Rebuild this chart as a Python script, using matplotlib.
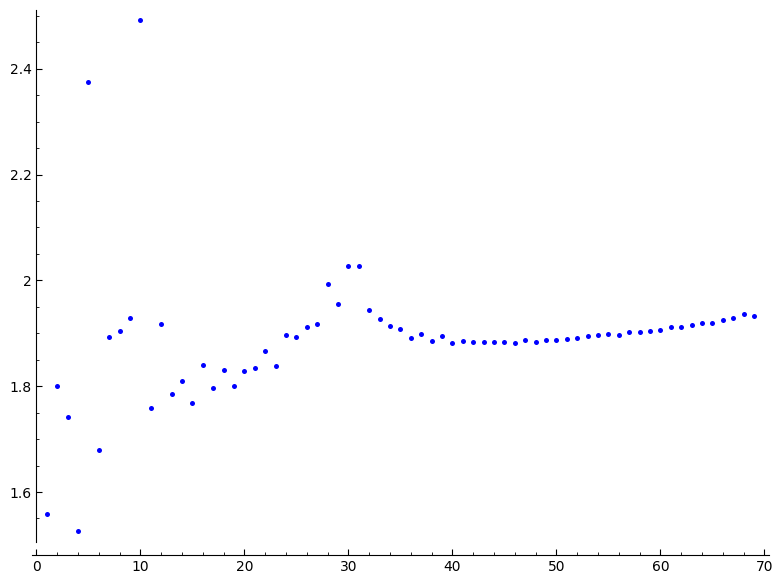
import matplotlib
matplotlib.use("Agg")
import matplotlib.pyplot as plt
from matplotlib.ticker import MultipleLocator, FuncFormatter

# x positions 1..69 and the values
n_values = list(range(1, 70))
ratios = [
    1.558, 1.800, 1.742, 1.527, 2.375, 1.680, 1.893, 1.904, 1.928, 2.493,
    1.759, 1.917, 1.786, 1.809, 1.768, 1.840, 1.796, 1.831, 1.801, 1.829,
    1.834, 1.866, 1.839, 1.897, 1.893, 1.912, 1.917, 1.994, 1.956, 2.027,
    2.027, 1.944, 1.927, 1.914, 1.908, 1.892, 1.898, 1.886, 1.895, 1.882,
    1.885, 1.883, 1.883, 1.884, 1.883, 1.881, 1.887, 1.883, 1.887, 1.887,
    1.890, 1.891, 1.894, 1.896, 1.898, 1.897, 1.902, 1.902, 1.905, 1.907,
    1.911, 1.912, 1.915, 1.919, 1.920, 1.926, 1.928, 1.937, 1.932,
]

fig = plt.figure(figsize=(7.82, 5.85), dpi=100)
ax = fig.add_axes([0.0411, 0.0730, 0.9417, 0.9099])

ax.plot(n_values, ratios, linestyle="none", marker="o", markersize=3.6,
        color="blue", markeredgewidth=0)

ax.set_xlim(-0.4, 70.4)
ax.set_ylim(1.505, 2.511)

# sage-like axes: left axis at x=0, bottom axis pushed down a little
ax.spines["right"].set_visible(False)
ax.spines["top"].set_visible(False)
ax.spines["left"].set_position(("data", 0))
ax.spines["bottom"].set_position(("outward", 8.9))

ax.xaxis.set_major_locator(MultipleLocator(10))
ax.xaxis.set_minor_locator(MultipleLocator(2))
ax.yaxis.set_major_locator(MultipleLocator(0.2))
ax.yaxis.set_minor_locator(MultipleLocator(0.05))
ax.yaxis.set_major_formatter(FuncFormatter(lambda v, p: "%g" % round(v, 2)))

ax.tick_params(which="major", direction="in", length=4, width=0.8,
               labelsize=10, colors="black")
ax.tick_params(which="minor", direction="in", length=2.3, width=0.6)

fig.savefig("out.png", dpi=100)
